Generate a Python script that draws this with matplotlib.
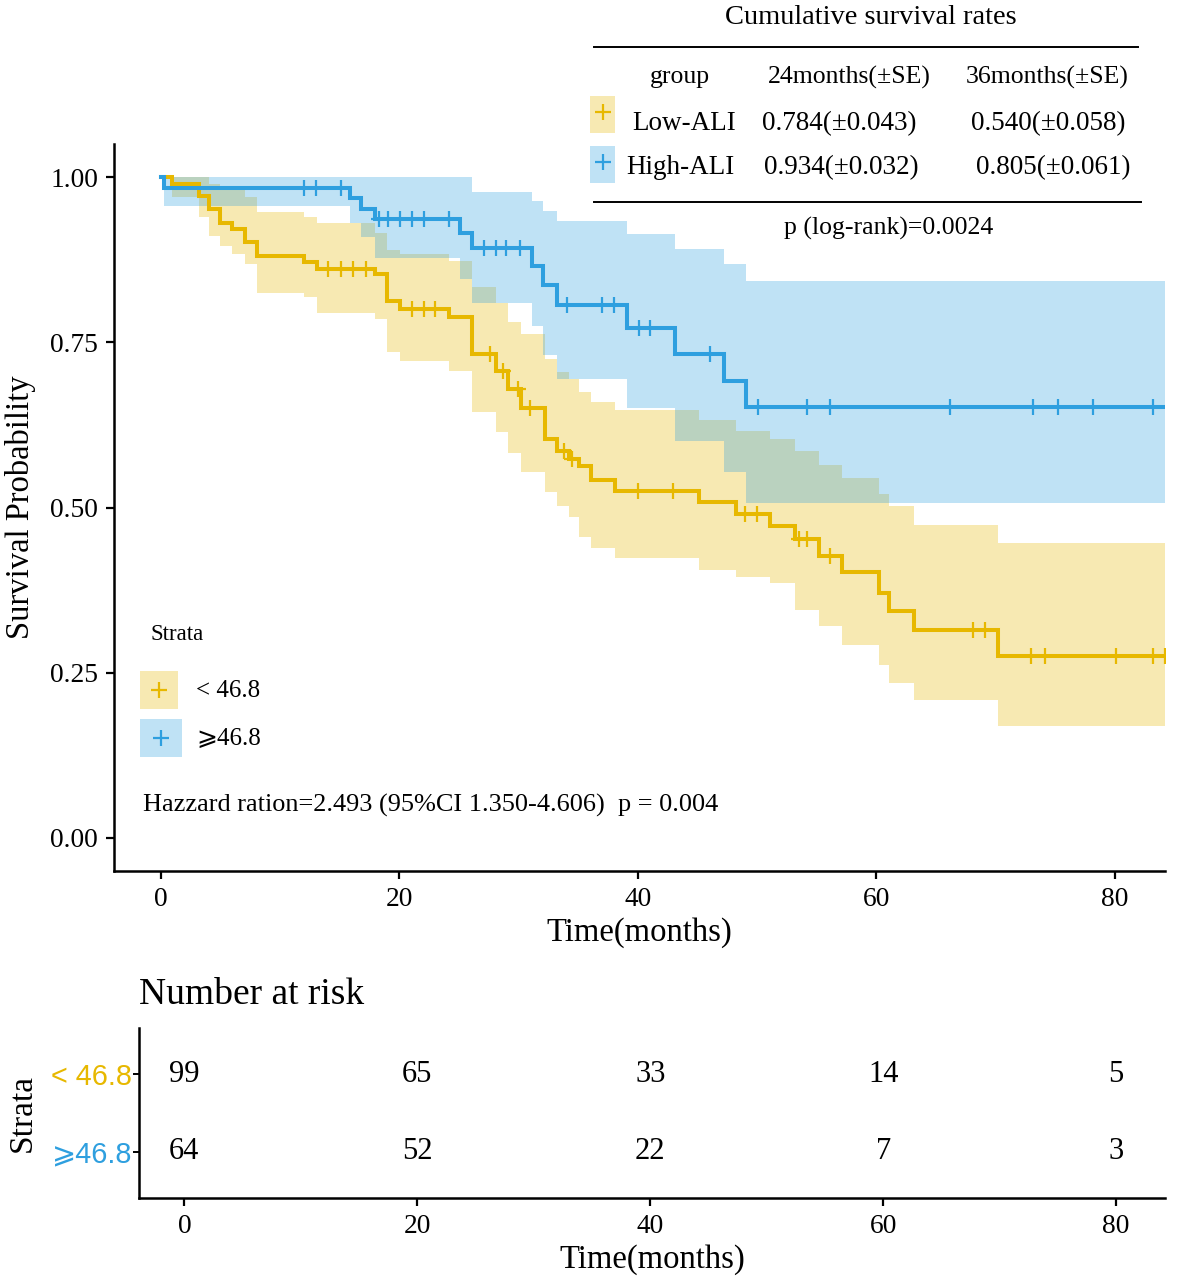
import numpy as np
import matplotlib
matplotlib.use("Agg")
import matplotlib.pyplot as plt
from matplotlib.lines import Line2D
from matplotlib.patches import Rectangle

# ---------------- data ----------------
low_times = [0, 0.98, 3.2, 4.05, 5.0, 6.0, 7.1, 8.1, 12.0, 13.1, 18.0, 19.0, 20.1, 24.2, 26.1,
             28.1, 29.1, 30.2, 32.2, 33.2, 34.2, 35.1, 36.1, 38.1, 45.1, 48.2, 51.1, 53.2,
             55.2, 57.1, 60.2, 61.1, 63.2, 70.2, 84.2]
low_surv = [1.0, 0.99, 0.972, 0.952, 0.931, 0.921, 0.901, 0.881, 0.871, 0.861, 0.853, 0.813, 0.80,
            0.788, 0.732, 0.707, 0.679, 0.65, 0.603, 0.585, 0.573, 0.563, 0.542, 0.525, 0.508,
            0.490, 0.472, 0.452, 0.426, 0.402, 0.371, 0.343, 0.314, 0.275, 0.275]
low_lower = [1.0, 0.97, 0.94, 0.911, 0.896, 0.883, 0.868, 0.825, 0.818, 0.795, 0.785, 0.735, 0.722,
             0.706, 0.644, 0.614, 0.583, 0.553, 0.523, 0.502, 0.485, 0.456, 0.439, 0.424, 0.405,
             0.395, 0.386, 0.345, 0.32, 0.292, 0.262, 0.234, 0.209, 0.169, 0.169]
low_upper = [1.0, 1.0, 1.0, 0.99, 0.98, 0.98, 0.97, 0.947, 0.94, 0.93, 0.915, 0.89, 0.883,
             0.873, 0.833, 0.81, 0.78, 0.762, 0.724, 0.705, 0.694, 0.675, 0.66, 0.648, 0.632,
             0.615, 0.603, 0.585, 0.565, 0.545, 0.52, 0.502, 0.474, 0.446, 0.446]
low_cens = [14.0, 15.1, 16.1, 17.2, 21.1, 22.1, 23.0, 27.6, 28.7, 30.0, 31.0, 33.8, 34.5, 40.0,
            43.0, 49.0, 50.0, 53.5, 54.2, 56.1, 68.1, 69.1, 73.0, 74.1, 80.1, 83.2, 84.2]

high_times = [0, 0.3, 15.9, 16.8, 18.0, 25.1, 26.1, 31.1, 32.1, 33.2, 39.1, 43.1, 47.2, 49.1, 84.2]
high_surv = [1.0, 0.984, 0.968, 0.952, 0.936, 0.915, 0.893, 0.866, 0.836, 0.806, 0.772, 0.733,
             0.691, 0.652, 0.652]
high_upper = [1.0, 1.0, 1.0, 1.0, 1.0, 1.0, 0.977, 0.964, 0.949, 0.934, 0.914, 0.891, 0.868,
              0.843, 0.843]
high_lower = [1.0, 0.956, 0.93, 0.91, 0.878, 0.845, 0.81, 0.775, 0.73, 0.694, 0.65, 0.60, 0.553,
              0.507, 0.507]
high_cens = [12.0, 13.0, 15.1, 18.3, 19.1, 20.1, 21.1, 22.1, 24.2, 27.1, 28.1, 29.0, 30.1, 34.1,
             37.0, 38.0, 40.1, 41.0, 46.1, 50.1, 54.2, 56.1, 66.2, 73.1, 75.2, 78.2, 83.2]

risk_times = [0, 20, 40, 60, 80]
risk_low = [99, 65, 33, 14, 5]
risk_high = [64, 52, 22, 7, 3]
strata_labels = ["< 46.8", "\u2a7e46.8"]

table_header = ["group", "24months(\u00b1SE)", "36months(\u00b1SE)"]
table_rows = [["Low-ALI", "0.784(\u00b10.043)", "0.540(\u00b10.058)"],
              ["High-ALI", "0.934(\u00b10.032)", "0.805(\u00b10.061)"]]

YEL = "#E7B800"
BLU = "#2E9FDF"

plt.rcParams['font.family'] = ['Liberation Serif', 'DejaVu Sans']

W, H = 1181, 1284
fig = plt.figure(figsize=(W / 100, H / 100), dpi=100)


def fx(x):
    return x / W


def fy(y):
    return 1 - y / H


SERIF = ['Liberation Serif', 'DejaVu Sans', 'DejaVu Serif']
SANS = ['Liberation Sans', 'DejaVu Sans']

# ---------------- main KM axes ----------------
ax = fig.add_axes([fx(114), fy(871), (1165 - 114) / W, (871 - 144) / H])
ax.set_xlim(-3.9, 84.2)
ax.set_ylim(-0.05, 1.05)

for t, s, lo, up, col in [(low_times, low_surv, low_lower, low_upper, YEL),
                          (high_times, high_surv, high_lower, high_upper, BLU)]:
    ax.fill_between(t, lo, up, step='post', color=col, alpha=0.3, linewidth=0)

for t, s, cens, col in [(low_times, low_surv, low_cens, YEL),
                        (high_times, high_surv, high_cens, BLU)]:
    ax.step(t, s, where='post', color=col, lw=2.9, solid_joinstyle='miter')
    ta = np.array(t)
    sa = np.array(s)
    idx = np.searchsorted(ta, np.array(cens), side='right') - 1
    ax.plot(cens, sa[idx], linestyle='none', marker='+', color=col, markersize=12,
            markeredgewidth=1.6)

ax.set_xticks([0, 20, 40, 60, 80])
ax.set_yticks([0, 0.25, 0.5, 0.75, 1.0])
ax.set_yticklabels(["0.00", "0.25", "0.50", "0.75", "1.00"])
for sp in ['top', 'right']:
    ax.spines[sp].set_visible(False)
for sp in ['left', 'bottom']:
    ax.spines[sp].set_linewidth(1.8)
ax.tick_params(axis='both', length=5.5, width=1.6, labelsize=19.8, pad=6)
ax.set_xlabel("Time(months)", fontsize=23.5, labelpad=4)
ax.set_ylabel("Survival Probability", fontsize=23.5, labelpad=10)

# legend inside plot
fig.text(fx(150), fy(635), "Strata", fontsize=16.5, ha='left', va='center')
for (y0, y1, x1, col, lab) in [(671, 709, 178, YEL, strata_labels[0]),
                               (719, 757, 182, BLU, strata_labels[1])]:
    fig.add_artist(Rectangle((fx(140), fy(y1)), (x1 - 140) / W, (y1 - y0) / H,
                             transform=fig.transFigure, facecolor=col, alpha=0.3,
                             edgecolor='none'))
    fig.add_artist(Line2D([fx((140 + x1) / 2)], [fy((y0 + y1) / 2)], marker='+',
                          color=col, markersize=12, markeredgewidth=1.6,
                          transform=fig.transFigure))
    fig.text(fx(196), fy((y0 + y1) / 2 + 1), lab, fontsize=18, ha='left', va='center',
             family=SERIF)

fig.text(fx(143), fy(805), "Hazzard ration=2.493 (95%CI 1.350-4.606)  p = 0.004",
         fontsize=18.9, ha='left', va='center')

# ---------------- survival table ----------------
fig.text(fx(871), fy(17), "Cumulative survival rates", fontsize=20.5, ha='center', va='center')
fig.add_artist(Line2D([fx(594), fx(1138)], [fy(47), fy(47)], color='black', lw=1.4,
                      transform=fig.transFigure))
fig.add_artist(Line2D([fx(594), fx(1141)], [fy(202), fy(202)], color='black', lw=1.4,
                      transform=fig.transFigure))
hx = [680, 849, 1047]
for x, txt in zip(hx, table_header):
    fig.text(fx(x), fy(77), txt, fontsize=18.5, ha='center', va='center', family=SERIF)
row_y = [124, 168]
row_x = [[684, 839, 1048], [680, 841, 1053]]
box = [(590, 615, 96, 133, YEL), (590, 615, 146, 183, BLU)]
for r, (row, y) in enumerate(zip(table_rows, row_y)):
    bx0, bx1, by0, by1, col = box[r]
    fig.add_artist(Rectangle((fx(bx0), fy(by1)), (bx1 - bx0) / W, (by1 - by0) / H,
                             transform=fig.transFigure, facecolor=col, alpha=0.3,
                             edgecolor='none'))
    fig.add_artist(Line2D([fx(603)], [fy(by0 + 16)], marker='+', color=col, markersize=12,
                          markeredgewidth=1.6, transform=fig.transFigure))
    for x, txt in zip(row_x[r], row):
        fig.text(fx(x), fy(y), txt, fontsize=19.5, ha='center', va='center', family=SERIF)
fig.text(fx(889), fy(228), "p (log-rank)=0.0024", fontsize=18.5, ha='center', va='center')

# ---------------- risk table ----------------
rax = fig.add_axes([fx(139), fy(1198), (1165 - 139) / W, (1198 - 1028) / H])
rax.set_xlim(-3.9, 84.2)
rax.set_ylim(0.4, 2.6)
for t, a, b in zip(risk_times, risk_low, risk_high):
    rax.text(t, 2, str(a), fontsize=22, ha='center', va='center')
    rax.text(t, 1, str(b), fontsize=22, ha='center', va='center')
rax.set_xticks([0, 20, 40, 60, 80])
rax.set_yticks([2, 1])
rax.set_yticklabels(strata_labels, family=SANS, fontsize=20.8)
for lab, col in zip(rax.get_yticklabels(), [YEL, BLU]):
    lab.set_color(col)
for sp in ['top', 'right']:
    rax.spines[sp].set_visible(False)
for sp in ['left', 'bottom']:
    rax.spines[sp].set_linewidth(1.8)
rax.tick_params(axis='x', length=5.5, width=1.6, labelsize=19.8, pad=6)
rax.tick_params(axis='y', length=4, width=1.4, pad=1)
rax.set_xlabel("Time(months)", fontsize=23.5, labelpad=4)
rax.set_ylabel("Strata", fontsize=24, labelpad=10)
fig.text(fx(139), fy(995), "Number at risk", fontsize=27, ha='left', va='center')

fig.savefig("out.png", dpi=100)
